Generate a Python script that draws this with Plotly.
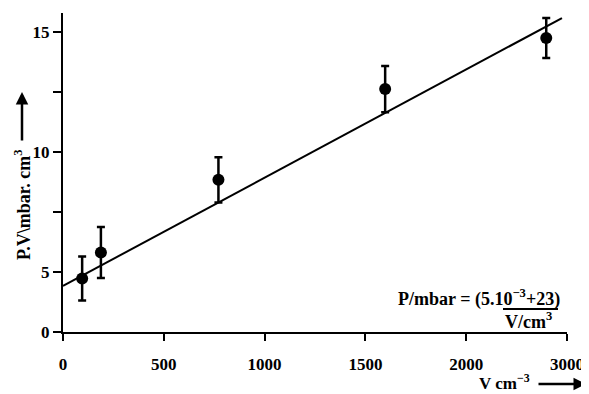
import plotly.graph_objects as go

# Data (in plotted axis units)
volume = [95, 188, 771, 1598, 2397]
pv = [4.73, 5.81, 8.84, 12.62, 14.75]
pv_err = [0.92, 1.06, 0.94, 0.96, 0.83]

fit_x = [0, 2475]
fit_y = [4.42, 15.58]

x_tickvals = [0, 500, 1000, 1500, 2000, 2500]
x_ticktext = ["0", "500", "1000", "1500", "2000", "3000"]
y_tickvals = [2.5, 5, 7.5, 10, 12.5, 15]
y_ticktext = ["0", "5", "", "10", "", "15"]

W, H = 589, 394
OFF = 8  # page body margin offset
L, T = 63 - OFF, 13 - OFF
PW, PH = 504, 319
R, B = W - L - PW, H - T - PH


def px(x):
    return (x - OFF - L) / PW


def py(y):
    return (T + PH - (y - OFF)) / PH


FONT = "Liberation Serif"

fig = go.Figure()
fig.add_trace(go.Scatter(x=fit_x, y=fit_y, mode="lines",
                         line=dict(color="black", width=2), showlegend=False))
fig.add_trace(go.Scatter(
    x=volume, y=pv, mode="markers",
    marker=dict(color="black", size=12),
    error_y=dict(type="data", array=pv_err, color="black", thickness=2.5, width=4),
    showlegend=False))

fig.update_layout(
    width=W, height=H,
    margin=dict(l=L, r=R, t=T, b=B),
    paper_bgcolor="white", plot_bgcolor="white",
    font=dict(family=FONT, color="black"),
    xaxis=dict(range=[0, 2500], tickvals=x_tickvals, ticktext=x_ticktext,
               showgrid=False, zeroline=False, showline=True, linecolor="black",
               linewidth=2, ticks="outside", ticklen=7, tickwidth=2, tickcolor="black",
               tickfont=dict(family=FONT, size=17, color="black", weight="bold"),
               ticklabelstandoff=9),
    yaxis=dict(range=[2.5, 15.79], tickvals=y_tickvals, ticktext=y_ticktext,
               showgrid=False, zeroline=False, showline=True, linecolor="black",
               linewidth=2, ticks="outside", ticklen=8, tickwidth=2, tickcolor="black",
               tickfont=dict(family=FONT, size=17, color="black", weight="bold"),
               ticklabelstandoff=0),
)

annots = [
    dict(text="P.V\\mbar. cm<sup>3</sup>", x=px(22), y=py(205), xref="paper", yref="paper",
         textangle=-90, showarrow=False, xanchor="center", yanchor="middle",
         font=dict(family=FONT, size=18, color="black", weight="bold")),
    dict(text="", x=px(22), y=py(92), xref="paper", yref="paper",
         showarrow=True, ax=0, ay=50, arrowhead=2, arrowsize=1, arrowwidth=2.5,
         arrowcolor="black"),
    dict(text="V cm<sup>−3</sup>", x=px(532), y=py(382), xref="paper", yref="paper",
         showarrow=False, xanchor="right", yanchor="middle",
         font=dict(family=FONT, size=17, color="black", weight="bold")),
    dict(text="", x=px(586), y=py(384), xref="paper", yref="paper",
         showarrow=True, ax=-49, ay=0, arrowhead=2, arrowsize=1, arrowwidth=2.5,
         arrowcolor="black"),
    dict(text="P/mbar = (5.10<sup>−3</sup>+23)", x=px(562), y=py(298), xref="paper", yref="paper",
         showarrow=False, xanchor="right", yanchor="middle",
         font=dict(family=FONT, size=18, color="black", weight="bold")),
    dict(text="V/cm<sup>3</sup>", x=px(528), y=py(320), xref="paper", yref="paper",
         showarrow=False, xanchor="center", yanchor="middle",
         font=dict(family=FONT, size=18, color="black", weight="bold")),
]
fig.update_layout(annotations=annots)
fig.add_shape(type="line", xref="paper", yref="paper",
              x0=px(503), x1=px(558), y0=py(309), y1=py(309),
              line=dict(color="black", width=2))

fig.write_html("out.html")
